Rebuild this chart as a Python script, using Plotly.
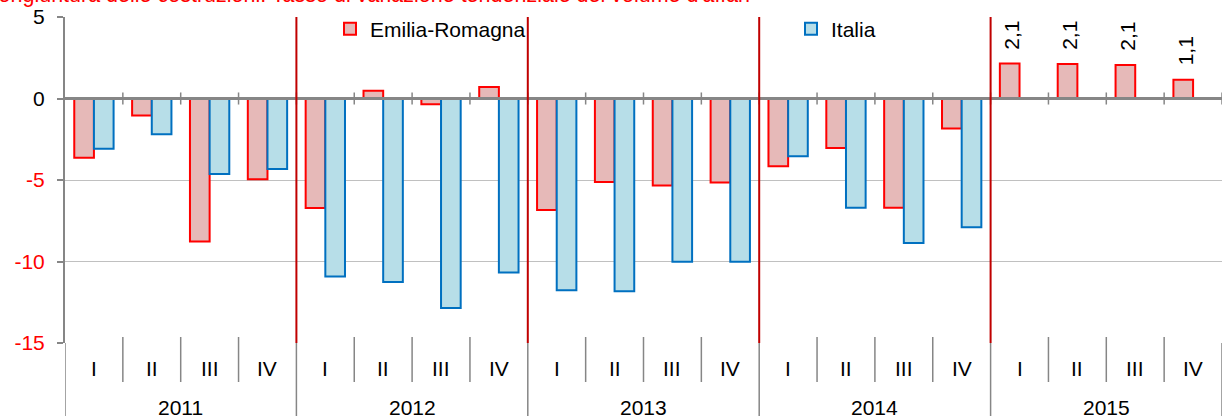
import plotly.graph_objects as go

# ---- data ----
years = ["2011", "2012", "2013", "2014", "2015"]
quarters = ["I", "II", "III", "IV"]
emilia_romagna = [-3.63, -1.04, -8.78, -4.96,
                  -6.72, 0.47, -0.35, 0.71,
                  -6.84, -5.13, -5.33, -5.15,
                  -4.15, -3.04, -6.70, -1.84,
                  2.14, 2.12, 2.06, 1.15]
italia = [-3.08, -2.20, -4.63, -4.33,
          -10.92, -11.25, -12.86, -10.68,
          -11.76, -11.82, -10.02, -10.02,
          -3.55, -6.70, -8.86, -7.90,
          None, None, None, None]
labelled_year = "2015"
y_ticks = [-15, -10, -5, 0, 5]
title_text = "Congiuntura delle costruzioni: Tasso di variazione tendenziale del volume d'affari"

# ---- derived ----
categories = [f"{y} {q}" for y in years for q in quarters]
cat_year = [y for y in years for q in quarters]
cat_quarter = [q for y in years for q in quarters]
nq = len(quarters)
ncat = len(categories)

FONT = "Liberation Sans, Arial, sans-serif"
FS = 21
GRAY = "#868686"

fig = go.Figure()
fig.add_trace(go.Bar(
    x=categories, y=emilia_romagna, name="Emilia-Romagna",
    marker=dict(color="#E6B9B8", line=dict(color="#FF0000", width=2)),
    legend="legend",
))
fig.add_trace(go.Bar(
    x=categories, y=italia, name="Italia",
    marker=dict(color="#B7DEE8", line=dict(color="#0070C0", width=2)),
    legend="legend2",
))

shapes = []
# zero (category) axis line
shapes.append(dict(type="line", xref="x", yref="y", x0=-0.5, x1=ncat - 0.5, y0=0, y1=0,
                   line=dict(color=GRAY, width=3), layer="above"))
boundaries = [i - 0.5 for i in range(ncat + 1)]
for k, b in enumerate(boundaries):
    is_year = (k % nq == 0)
    # ticks crossing the zero axis
    if 0 < k:
        shapes.append(dict(type="line", xref="x", yref="y", x0=b, x1=b, y0=-0.37, y1=0.37,
                           line=dict(color=GRAY, width=1.5), layer="above"))
    if is_year:
        if 0 < k < ncat:
            shapes.append(dict(type="line", xref="x", yref="y", x0=b, x1=b, y0=y_ticks[0], y1=y_ticks[-1],
                               line=dict(color="#C00000", width=2), layer="above"))
        shapes.append(dict(type="line", xref="x", yref="paper", x0=b, x1=b, y0=0.0, y1=-0.3,
                           line=dict(color=GRAY, width=1.5)))
    else:
        shapes.append(dict(type="line", xref="x", yref="paper", x0=b, x1=b, y0=0.0184, y1=-0.1196,
                           line=dict(color=GRAY, width=1.5)))

annotations = []
for i, q in enumerate(cat_quarter):
    annotations.append(dict(x=i, y=-0.0767, xref="x", yref="paper", text=q, showarrow=False,
                            yanchor="middle", font=dict(family=FONT, size=FS, color="black")))
for j, y in enumerate(years):
    annotations.append(dict(x=j * nq + (nq - 1) / 2, y=-0.198, xref="x", yref="paper", text=y,
                            showarrow=False, yanchor="middle",
                            font=dict(family=FONT, size=FS, color="black")))
for i, (yr, v) in enumerate(zip(cat_year, emilia_romagna)):
    if yr == labelled_year and v is not None:
        annotations.append(dict(x=i, y=v, xref="x", yref="y", text=f"{v:.1f}".replace(".", ","),
                                textangle=-90, showarrow=False, yanchor="bottom", xshift=-8, yshift=12,
                                font=dict(family=FONT, size=FS, color="black")))
annotations.append(dict(x=(752 - 65) / 1157, y=1.0684, xref="paper", yref="paper", text=title_text,
                        showarrow=False, xanchor="right", yanchor="middle",
                        font=dict(family=FONT, size=21.5, color="#FF0000")))

ticktext = [f"<span style='color:#FF0000'>{v}</span>" if v < 0 else str(v) for v in y_ticks]

fig.update_layout(
    width=1222, height=416,
    margin=dict(l=65, r=0, t=17, b=73),
    paper_bgcolor="white", plot_bgcolor="white",
    barmode="group", bargap=0.32, bargroupgap=0,
    font=dict(family=FONT, size=FS, color="black"),
    xaxis=dict(type="category", range=[-0.5, ncat - 0.5], showticklabels=False, showgrid=False,
               zeroline=False, showline=False, ticks=""),
    yaxis=dict(range=[y_ticks[0], y_ticks[-1]], tickvals=y_ticks, ticktext=ticktext,
               showgrid=True, gridcolor="#C0C0C0", gridwidth=1, zeroline=False,
               showline=True, linecolor=GRAY, linewidth=2, ticks="outside", ticklen=6,
               tickcolor=GRAY, tickwidth=1.5, ticklabelstandoff=8,
               tickfont=dict(family=FONT, size=FS, color="black")),
    legend=dict(x=(330 - 65) / 1157, xanchor="left", y=0.963, yanchor="middle",
                orientation="h", bgcolor="rgba(0,0,0,0)", font=dict(family=FONT, size=FS)),
    legend2=dict(x=(791 - 65) / 1157, xanchor="left", y=0.963, yanchor="middle",
                 orientation="h", bgcolor="rgba(0,0,0,0)", font=dict(family=FONT, size=FS)),
    shapes=shapes,
    annotations=annotations,
    showlegend=True,
)

fig.write_html("out.html", config={"displayModeBar": False},
               post_script="document.body.style.margin='0';document.body.style.overflow='hidden';")
